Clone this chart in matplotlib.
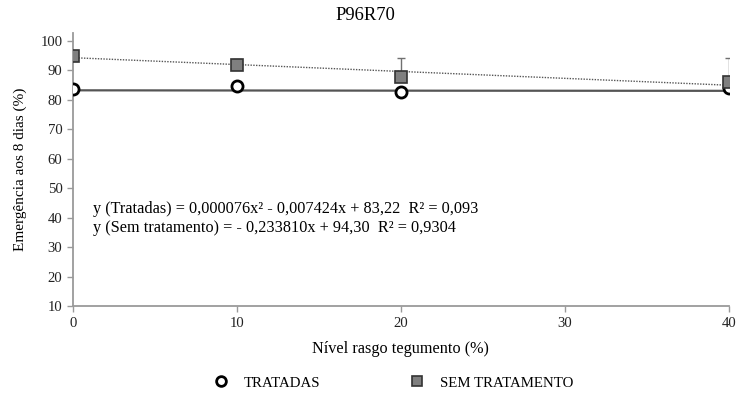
import numpy as np
import matplotlib
matplotlib.use("Agg")
import matplotlib.pyplot as plt

plt.rcParams['font.family'] = ['Liberation Serif', 'DejaVu Serif']

# niveis de rasgo do tegumento (%)
nivel = [0, 10, 20, 40]
tratadas = [83.8, 84.7, 82.8, 84.0]
sem_trat = [94.8, 91.7, 87.7, 85.9]
erro_sem = [0.0, 2.3, 6.4, 8.2]

# coeficientes das equacoes ajustadas
coef_trat = [0.000076, -0.007424, 83.22]
coef_sem = [-0.233810, 94.30]

eq_trat = "y (Tratadas) = 0,000076x² - 0,007424x + 83,22  R² = 0,093"
eq_sem = "y (Sem tratamento) = - 0,233810x + 94,30  R² = 0,9304"

cinza = '#9a9a9a'

fig = plt.figure(figsize=(7.36, 3.94), dpi=100)
ax = fig.add_axes([0.099, 0.2234, 0.891, 0.693])

xs = np.linspace(0, 40, 200)
ax.plot(xs, np.polyval(coef_trat, xs), color='#555555', lw=1.6, zorder=2)
ax.plot(xs, np.polyval(coef_sem, xs), color='#555555', lw=1.0, ls=(0, (1, 1)), zorder=2)

ax.errorbar(nivel, sem_trat, yerr=[np.zeros(len(erro_sem)), erro_sem], fmt='none',
            ecolor='#707070', elinewidth=1, capsize=3, capthick=1, zorder=3)

ax.plot(nivel, sem_trat, 's', ms=9, mfc='#7f7f7f', mec='#333333', mew=1.2,
        label='SEM TRATAMENTO', zorder=5)
ax.plot(nivel, tratadas, 'o', ms=8, mfc='white', mec='black', mew=2,
        label='TRATADAS', zorder=4)

ax.set_xlim(0, 40)
ax.set_ylim(10, 102.7)
ax.set_xticks([0, 10, 20, 30, 40])
ax.set_yticks(range(10, 101, 10))
ax.tick_params(colors='#222222', labelsize=10.6, length=4, width=1, color=cinza)
ax.tick_params(axis='x', pad=4)
ax.spines['top'].set_visible(False)
ax.spines['right'].set_visible(False)
ax.spines['left'].set_color(cinza)
ax.spines['bottom'].set_color(cinza)
ax.spines['left'].set_linewidth(1.3)
ax.spines['bottom'].set_linewidth(1.3)

fig.suptitle('P96R70', x=0.496, y=0.982, fontsize=13.4)
ax.set_xlabel('Nível rasgo tegumento (%)', fontsize=11.7)
ax.xaxis.set_label_coords(0.5, -0.128)
ax.set_ylabel('Emergência aos 8 dias (%)', fontsize=11)
ax.yaxis.set_label_coords(-0.070, 0.5)

ax.text(0.0305, 0.355, eq_trat, transform=ax.transAxes, fontsize=11.7, va='center')
ax.text(0.0305, 0.286, eq_sem, transform=ax.transAxes, fontsize=11.7, va='center')

handles, labels = ax.get_legend_handles_labels()
leg = fig.legend(handles[::-1], labels[::-1], loc='center', bbox_to_anchor=(0.5346, 0.028),
                 ncol=2, frameon=False, fontsize=10.7, columnspacing=6.0, handlelength=1.0,
                 handletextpad=1.05, numpoints=1)
for h in leg.legend_handles:
    h.set_markersize(7)

fig.savefig('out.png', dpi=100)
